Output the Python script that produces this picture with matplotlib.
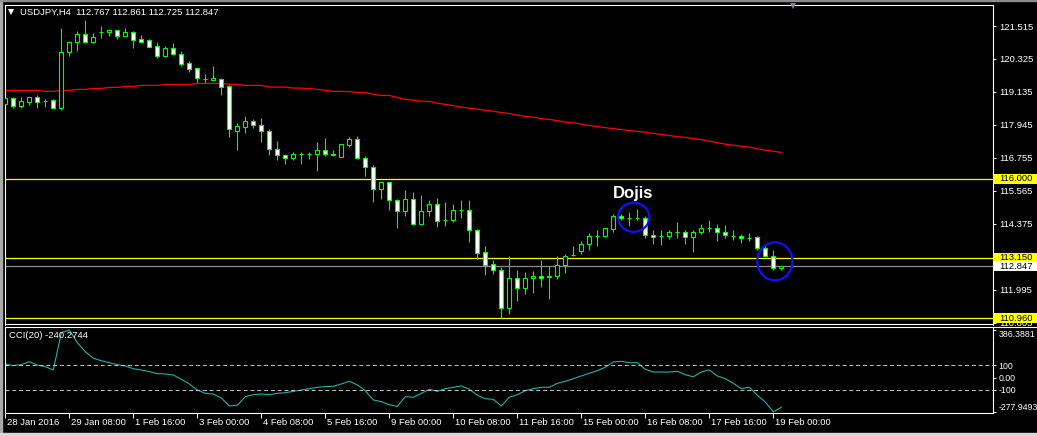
import numpy as np
import matplotlib.pyplot as plt
from matplotlib.patches import Rectangle, Ellipse
from matplotlib.lines import Line2D
import matplotlib.transforms as mtransforms

plt.rcParams['font.family'] = ['Liberation Sans', 'DejaVu Sans']

# ---- data (USDJPY H4, 28 Jan - 19 Feb 2016) ----
header = "USDJPY,H4  112.767 112.861 112.725 112.847"
cci_title = "CCI(20) -240.2744"

opens = [118.695, 118.901, 118.634, 118.778, 118.948, 118.815, 118.829, 118.562, 120.564, 120.926,
         121.215, 120.947, 121.290, 121.287, 121.360, 121.164, 121.287, 121.045, 120.998, 120.781,
         120.441, 120.709, 120.492, 120.177, 119.986, 119.610, 119.563, 119.588, 119.346, 117.730,
         117.853, 118.070, 117.925, 117.708, 117.079, 116.841, 116.743, 116.899, 116.899, 116.913,
         117.032, 116.913, 116.790, 117.224, 117.419, 116.768, 116.429, 115.633, 115.875, 115.250,
         114.838, 115.286, 114.382, 114.838, 115.106, 114.500, 114.527, 114.863, 114.863, 114.166,
         113.345, 112.911, 112.720, 111.346, 112.430, 112.069, 112.430, 112.503, 112.460, 112.503,
         112.886, 113.240, 113.392, 113.634, 113.949, 113.949, 114.188, 114.672, 114.600, 114.580,
         114.600, 113.971, 113.924, 113.924, 114.068, 114.068, 113.898, 114.093, 114.213, 114.238,
         114.093, 113.949, 113.924, 113.851, 113.898, 113.490, 113.226, 112.767]
highs = [118.948, 118.948, 118.948, 118.966, 119.021, 118.876, 118.876, 121.454, 120.973, 121.334,
         121.732, 121.251, 121.515, 121.407, 121.380, 121.432, 121.334, 121.190, 121.045, 120.926,
         120.781, 120.900, 120.611, 120.250, 120.000, 119.780, 120.069, 119.635, 119.393, 118.019,
         118.262, 118.142, 118.189, 117.781, 117.369, 116.888, 116.985, 116.985, 116.985, 117.322,
         117.466, 117.032, 117.260, 117.513, 117.539, 116.816, 116.490, 115.880, 115.890, 115.260,
         115.586, 115.514, 115.417, 115.225, 115.297, 115.153, 115.080, 115.225, 115.225, 114.180,
         113.587, 113.056, 112.814, 113.200, 112.694, 112.622, 112.669, 113.056, 112.839, 113.200,
         113.273, 113.562, 113.754, 114.043, 114.140, 114.220, 114.744, 114.744, 114.791, 114.910,
         114.672, 114.140, 114.140, 114.140, 114.430, 114.140, 114.140, 114.357, 114.527, 114.357,
         114.332, 114.140, 113.996, 114.043, 113.949, 113.660, 113.417, 112.861]
lows = [118.406, 118.562, 118.540, 118.659, 118.562, 118.587, 118.515, 118.489, 120.441, 120.611,
        120.900, 120.900, 121.092, 121.164, 121.045, 121.150, 120.709, 120.930, 120.740, 120.369,
        120.394, 120.467, 120.080, 119.841, 119.444, 119.465, 119.516, 119.021, 117.513, 117.032,
        117.658, 117.828, 117.322, 116.862, 116.671, 116.526, 116.671, 116.526, 116.718, 116.284,
        116.816, 116.816, 116.780, 117.130, 116.718, 116.093, 115.153, 115.272, 114.863, 114.213,
        114.647, 114.332, 114.370, 114.647, 114.260, 114.285, 114.455, 114.600, 113.707, 113.103,
        112.524, 112.550, 110.985, 111.129, 111.585, 111.852, 111.874, 112.091, 111.657, 112.380,
        112.597, 113.226, 113.298, 113.443, 113.587, 113.910, 114.094, 114.502, 114.310, 114.527,
        113.851, 113.660, 113.609, 113.826, 113.877, 113.634, 113.370, 113.996, 114.068, 113.754,
        113.851, 113.804, 113.682, 113.754, 113.443, 113.175, 112.694, 112.725]
closes = [118.912, 118.634, 118.804, 118.948, 118.778, 118.815, 118.562, 120.564, 120.926, 121.215,
          120.947, 121.117, 121.310, 121.360, 121.164, 121.287, 121.020, 120.947, 120.756, 120.441,
          120.709, 120.492, 120.152, 119.961, 119.624, 119.600, 119.635, 119.321, 117.781, 117.900,
          118.070, 117.925, 117.708, 117.079, 116.841, 116.768, 116.913, 116.899, 116.899, 117.032,
          116.913, 116.841, 117.249, 117.419, 116.768, 116.429, 115.633, 115.875, 115.250, 114.838,
          115.286, 114.382, 114.838, 115.106, 114.477, 114.510, 114.889, 114.863, 114.166, 113.320,
          112.886, 112.720, 111.346, 112.430, 112.069, 112.430, 112.503, 112.430, 112.475, 112.886,
          113.226, 113.250, 113.634, 113.924, 113.949, 114.213, 114.672, 114.574, 114.600, 114.600,
          113.971, 113.898, 113.924, 114.068, 114.068, 113.898, 114.093, 114.213, 114.213, 114.093,
          113.971, 113.949, 113.851, 113.851, 113.490, 113.226, 112.792, 112.847]

ma = [119.191, 119.191, 119.191, 119.191, 119.191, 119.155, 119.155, 119.191, 119.191, 119.227,
      119.227, 119.263, 119.263, 119.299, 119.299, 119.335, 119.335, 119.371, 119.371, 119.371,
      119.408, 119.408, 119.408, 119.408, 119.444, 119.444, 119.444, 119.444, 119.408, 119.408,
      119.371, 119.371, 119.371, 119.310, 119.310, 119.310, 119.274, 119.274, 119.256, 119.227,
      119.191, 119.155, 119.155, 119.147, 119.118, 119.118, 119.046, 119.010, 119.010, 118.938,
      118.865, 118.840, 118.804, 118.793, 118.731, 118.685, 118.641, 118.587, 118.551, 118.515,
      118.468, 118.442, 118.388, 118.359, 118.298, 118.251, 118.226, 118.171, 118.142, 118.099,
      118.045, 118.027, 117.972, 117.925, 117.882, 117.846, 117.810, 117.774, 117.737, 117.709,
      117.683, 117.636, 117.600, 117.564, 117.520, 117.492, 117.456, 117.412, 117.358, 117.304,
      117.249, 117.213, 117.177, 117.141, 117.087, 117.032, 116.996, 116.950]

cci = [111, 98, 106, 130, 103, 89, 63, 366, 386.39, 285,
       211, 158, 138, 122, 106, 95, 73, 63, 49, 33,
       30, 22, -13, -51, -100, -127, -133, -165, -230, -224,
       -154, -138, -133, -138, -127, -122, -111, -100, -89, -78,
       -73, -70, -51, -29, -59, -106, -181, -195, -220, -233,
       -154, -159, -127, -94, -111, -89, -78, -67, -94, -143,
       -171, -176, -230, -159, -138, -106, -89, -78, -78, -46,
       -29, -8, 14, 36, 57, 85, 128, 133, 122, 122,
       68, 46, 46, 46, 52, 24, 8, 46, 63, 14,
       -8, -46, -89, -78, -143, -198, -277.95, -240.27]

time_labels = ["28 Jan 2016", "29 Jan 08:00", "1 Feb 16:00", "3 Feb 00:00", "4 Feb 08:00",
               "5 Feb 16:00", "9 Feb 00:00", "10 Feb 08:00", "11 Feb 16:00", "15 Feb 00:00",
               "16 Feb 08:00", "17 Feb 16:00", "19 Feb 00:00"]
price_ticks = [121.515, 120.325, 119.135, 117.945, 116.755, 115.565, 114.375, 111.995, 110.805]
levels = [116.000, 113.150, 110.960]
bid = 112.847
cci_ticks = [386.3881, 100, 0, -100, -277.9493]
cci_tick_labels = ["386.3881", "100", "0.00", "-100", "-277.9493"]

GREEN = '#00ff00'
FS = 6.8
W, H = 1037, 436


def box(l, t, r, b):
    return [l / W, 1 - b / H, (r - l) / W, (b - t) / H]


fig = plt.figure(figsize=(W / 100, H / 100), dpi=100, facecolor='black')
ax = fig.add_axes(box(5, 5, 993, 324.5), facecolor='black')
ax2 = fig.add_axes(box(5, 327, 993, 413), facecolor='black')

x = np.arange(len(opens))

# ---- main window: candles ----
ax.vlines(x, lows, highs, color=GREEN, lw=0.8, zorder=2)
for i in x:
    o, c = opens[i], closes[i]
    fill = 'black' if c > o else 'white'
    ax.add_patch(Rectangle((i - 0.27, min(o, c)), 0.54, abs(c - o), facecolor=fill,
                           edgecolor=GREEN, lw=0.8, zorder=3))

ax.plot(x, ma, color='red', lw=0.9, zorder=2)
for lv in levels:
    ax.axhline(lv, color='yellow', lw=0.9, zorder=1)
ax.axhline(bid, color='#8a8a8a', lw=0.9, zorder=1)

ax.set_xlim(-0.04, 123.46)
ax.set_ylim(110.74, 122.274)
ax.set_xticks([])
ax.yaxis.tick_right()
ax.set_yticks(price_ticks)
ax.set_yticklabels([f"{p:.3f}" for p in price_ticks])
ax.tick_params(axis='y', colors='white', labelsize=FS, length=2.5, width=0.7, pad=2)
for s in ax.spines.values():
    s.set_color('white')
    s.set_linewidth(0.8)

# price labels with coloured boxes
trans = mtransforms.blended_transform_factory(ax.transAxes, ax.transData)
bh = 10 * (122.274 - 110.74) / 319.5
for lv, bg in [(l, 'yellow') for l in levels] + [(bid, 'white')]:
    ax.add_patch(Rectangle((1.0005, lv - bh / 2), 0.045, bh, transform=trans, facecolor=bg,
                           edgecolor='none', clip_on=False, zorder=5))
    ax.text(1.0062, lv, f"{lv:.3f}", transform=trans, color='black', fontsize=FS,
            va='center', ha='left', zorder=6, clip_on=False)

# annotations
ax.text(78.5, 115.48, "Dojis", color='white', fontsize=12, fontweight='bold',
        ha='center', va='center', zorder=6)
ax.add_patch(Ellipse((78.55, 114.61), 3.9, 1.05, fill=False, edgecolor='#1010ff', lw=1.6, zorder=6))
ax.add_patch(Ellipse((96.2, 113.02), 4.4, 1.37, fill=False, edgecolor='#1010ff', lw=1.6, zorder=6))

# ---- CCI window ----
ax2.plot(x, cci, color='#20b2aa', lw=0.8)
for lv in (100, -100):
    ax2.axhline(lv, color='#c8c8c8', lw=0.7, ls=(0, (4, 3)))
ax2.set_xlim(-0.04, 123.46)
ax2.set_ylim(-287, 412)
ax2.yaxis.tick_right()
ax2.set_yticks(cci_ticks)
ax2.set_yticklabels(cci_tick_labels)
ax2.tick_params(axis='y', colors='white', labelsize=6.3, length=2.5, width=0.7, pad=1.5)
yl = ax2.get_yticklabels()
yl[0].set_va('top')
yl[-1].set_va('bottom')
tick_idx = np.arange(0, 8 * len(time_labels), 8)
ax2.set_xticks(tick_idx)
ax2.set_xticklabels([])
ax2.tick_params(axis='x', colors='white', length=3.5, width=0.7)
tx = mtransforms.blended_transform_factory(ax2.transData, ax2.transAxes)
for i, lab in zip(tick_idx, time_labels):
    ax2.text(i + 0.15, -0.11, lab, transform=tx, color='white', fontsize=FS,
             ha='left', va='center', clip_on=False)
for s in ax2.spines.values():
    s.set_color('white')
    s.set_linewidth(0.8)
ax2.text(0.004, 0.9, cci_title, transform=ax2.transAxes, color='white', fontsize=FS,
         ha='left', va='center')

# ---- window decorations ----
fig.text(20 / W, 1 - 12.5 / H, header, color='white', fontsize=FS, ha='left', va='center')
fig.add_artist(Line2D([11 / W], [1 - 12 / H], marker='v', ms=4.5, color='white', mew=0))
fig.add_artist(Line2D([793 / W], [1 - 6.5 / H], marker='v', ms=5, color='#7a8898', mew=0))
fig.add_artist(Line2D([993 / W, 1], [1 - 326.7 / H] * 2, color='white', lw=0.8))
fig.add_artist(Rectangle((0, 0), 2 / W, 1, transform=fig.transFigure, color='#a8a8a8'))
fig.add_artist(Rectangle((0, 1 - 1.5 / H), 1, 1.5 / H, transform=fig.transFigure, color='#8c8c8c'))
fig.add_artist(Rectangle((0, 0), 1, 3.5 / H, transform=fig.transFigure, color='#d8d8d8'))

fig.savefig('out.png', dpi=100, facecolor='black')
